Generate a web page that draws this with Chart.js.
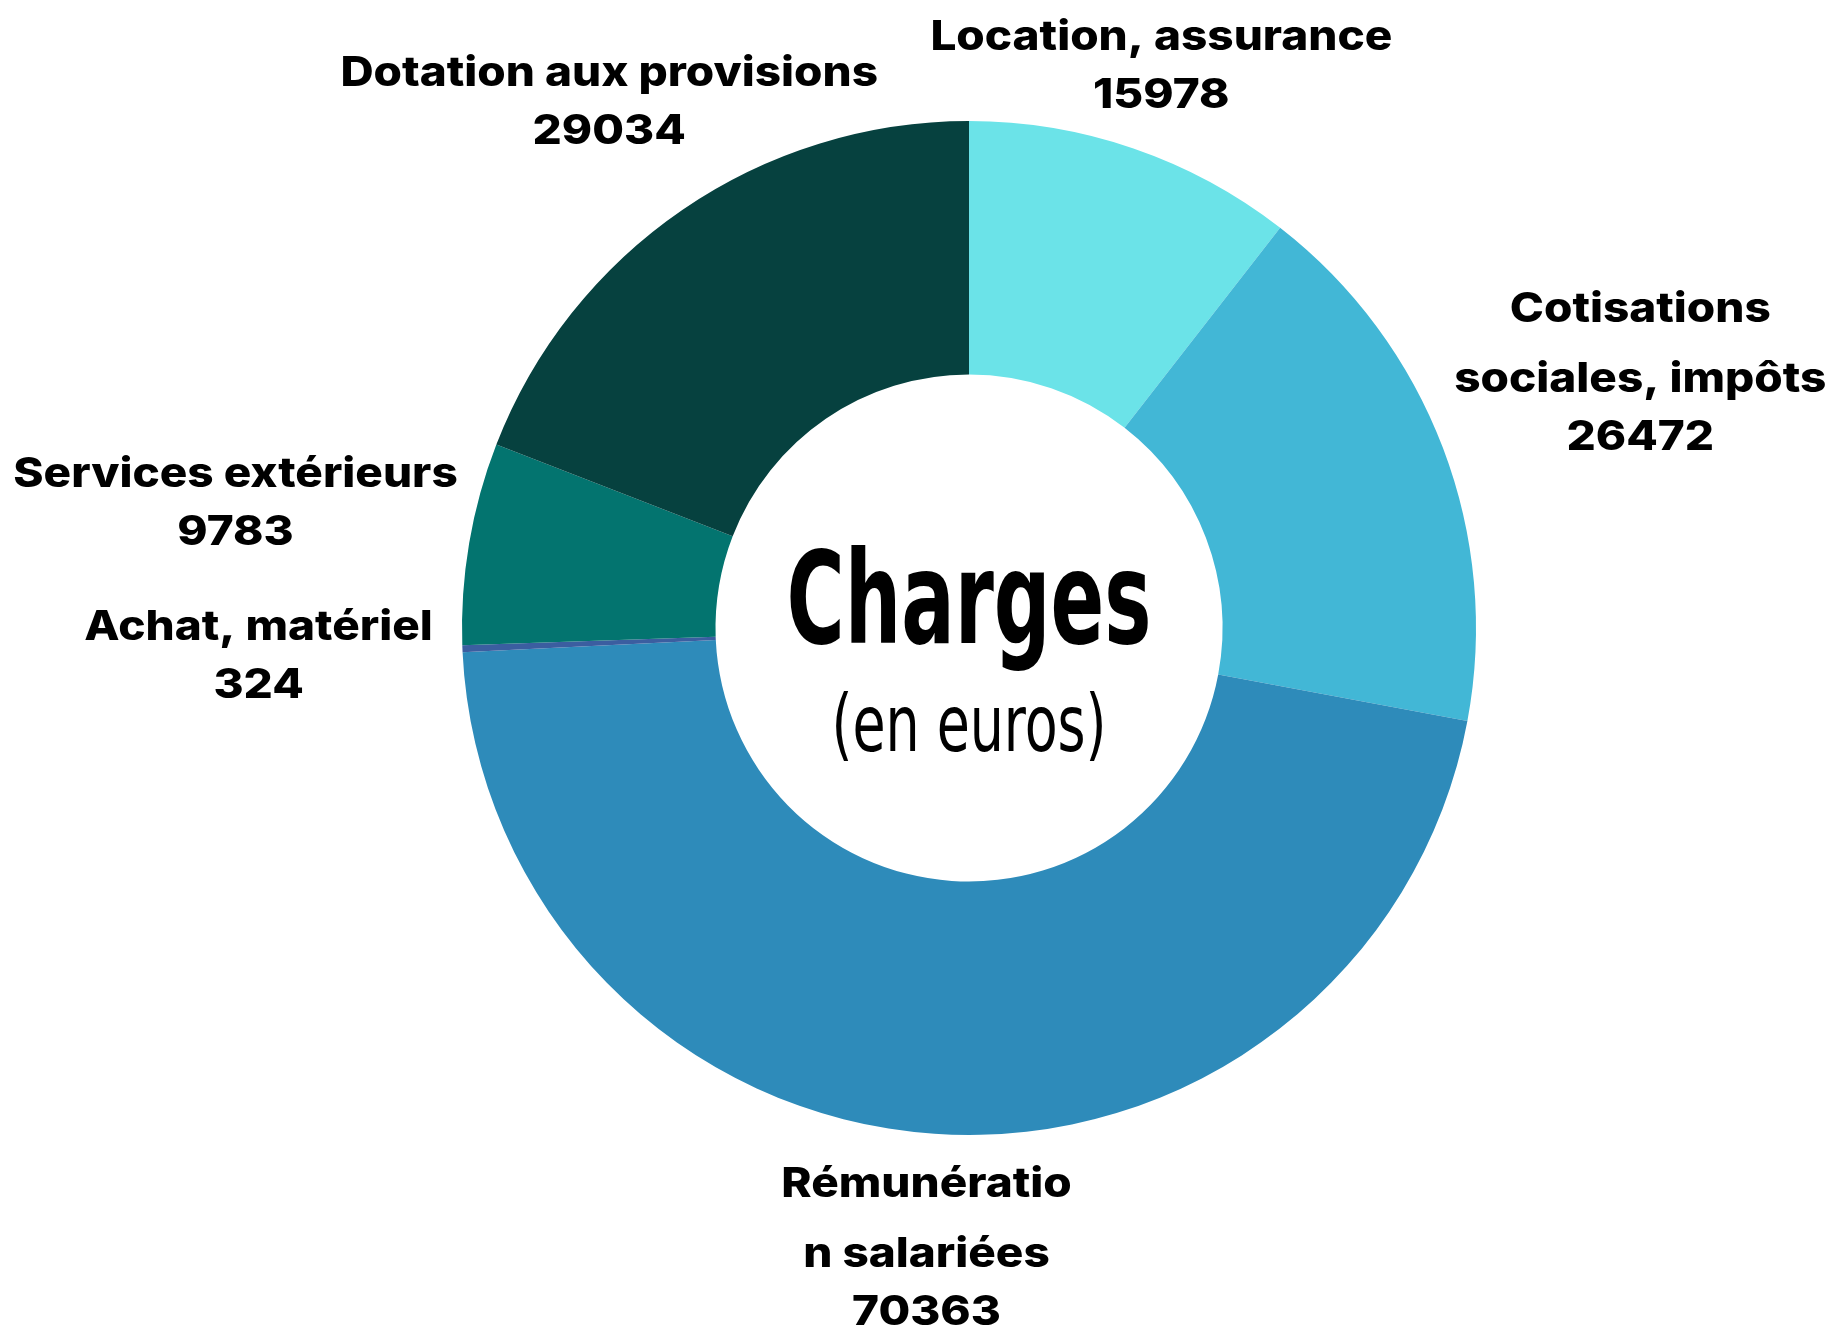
<!DOCTYPE html>
<html lang="fr">
<head>
<meta charset="utf-8">
<title>Charges (en euros)</title>
<script src="https://cdn.jsdelivr.net/npm/chart.js@4"></script>
<style>
    html, body { margin: 0; padding: 0; background: #FFFFFF; }
    #wrap { width: 1841px; height: 1325px; position: relative; }
</style>
</head>
<body>
<div id="wrap"><canvas id="chargesChart" width="1841" height="1325"></canvas></div>
<script>
// Charges (en euros) - donut, clockwise from 12 o'clock
const categories = [
    'Location, assurance',
    'Cotisations sociales, impôts',
    'Rémunération salariées',
    'Achat, matériel',
    'Services extérieurs',
    'Dotation aux provisions'
];
const values = [15978, 26472, 70363, 324, 9783, 29034];
const colors = ['#6BE3E8', '#42B7D6', '#2E8BBA', '#3B5EA0', '#03746F', '#06413F'];

// how each label is broken onto lines in the picture
const labelLines = [
    ['Location, assurance'],
    ['Cotisations', 'sociales, impôts'],
    ['Rémunératio', 'n salariées'],
    ['Achat, matériel'],
    ['Services extérieurs'],
    ['Dotation aux provisions']
];
// distance from the centre to each label block, along the slice's mid angle
const labelRadius = [593, 718, 622, 711, 744, 637];

const labelFont = '800 41px Inter, "Noto Sans", sans-serif';
const labelStretch = 1.12;

const outsideLabels = {
    id: 'outsideLabels',
    afterDatasetsDraw(chart) {
        const ctx = chart.ctx;
        const meta = chart.getDatasetMeta(0);
        ctx.save();
        ctx.fillStyle = '#000000';
        ctx.textAlign = 'center';
        ctx.textBaseline = 'middle';
        ctx.font = labelFont;
        meta.data.forEach((arc, i) => {
            const mid = (arc.startAngle + arc.endAngle) / 2;
            const cx = arc.x + Math.cos(mid) * labelRadius[i];
            const cy = arc.y + Math.sin(mid) * labelRadius[i];
            const lines = labelLines[i].concat([String(values[i])]);
            const gaps = [];
            for (let k = 1; k < lines.length; k++) {
                gaps.push(k === lines.length - 1 ? 58 : 70);
            }
            const total = gaps.reduce((a, b) => a + b, 0);
            let y = cy - total / 2;
            lines.forEach((t, k) => {
                ctx.save();
                ctx.translate(cx, y);
                ctx.scale(labelStretch, 1);
                ctx.fillText(t, 0, 0);
                ctx.restore();
                if (k < gaps.length) y += gaps[k];
            });
        });
        ctx.restore();
    }
};

const centerTitle = {
    id: 'centerTitle',
    afterDraw(chart) {
        const ctx = chart.ctx;
        const arc = chart.getDatasetMeta(0).data[0];
        const r = arc.innerRadius;
        ctx.save();
        ctx.fillStyle = '#000000';
        ctx.textAlign = 'center';
        ctx.textBaseline = 'alphabetic';

        ctx.font = 'bold 128px "Liberation Sans Narrow", "DejaVu Sans Condensed", "DejaVu Sans", sans-serif';
        let w = ctx.measureText('Charges').width;
        let sx = (r * 1.44) / w;
        ctx.save();
        ctx.translate(arc.x, arc.y + 15);
        ctx.scale(sx, 1);
        ctx.fillText('Charges', 0, 0);
        ctx.restore();

        ctx.font = '78px "Liberation Sans Narrow", "DejaVu Sans Condensed", "DejaVu Sans", sans-serif';
        w = ctx.measureText('(en euros)').width;
        sx = (r * 1.085) / w;
        ctx.save();
        ctx.translate(arc.x, arc.y + 123);
        ctx.scale(sx, 1);
        ctx.fillText('(en euros)', 0, 0);
        ctx.restore();

        ctx.restore();
    }
};

new Chart(document.getElementById('chargesChart'), {
    type: 'doughnut',
    data: {
        labels: categories,
        datasets: [{
            data: values,
            backgroundColor: colors,
            borderWidth: 0
        }]
    },
    options: {
        responsive: false,
        animation: false,
        cutout: '50%',
        layout: { padding: { top: 121, bottom: 190, left: 462, right: 365 } },
        plugins: {
            legend: { display: false },
            tooltip: { enabled: false }
        }
    },
    plugins: [outsideLabels, centerTitle]
});
</script>
</body>
</html>
